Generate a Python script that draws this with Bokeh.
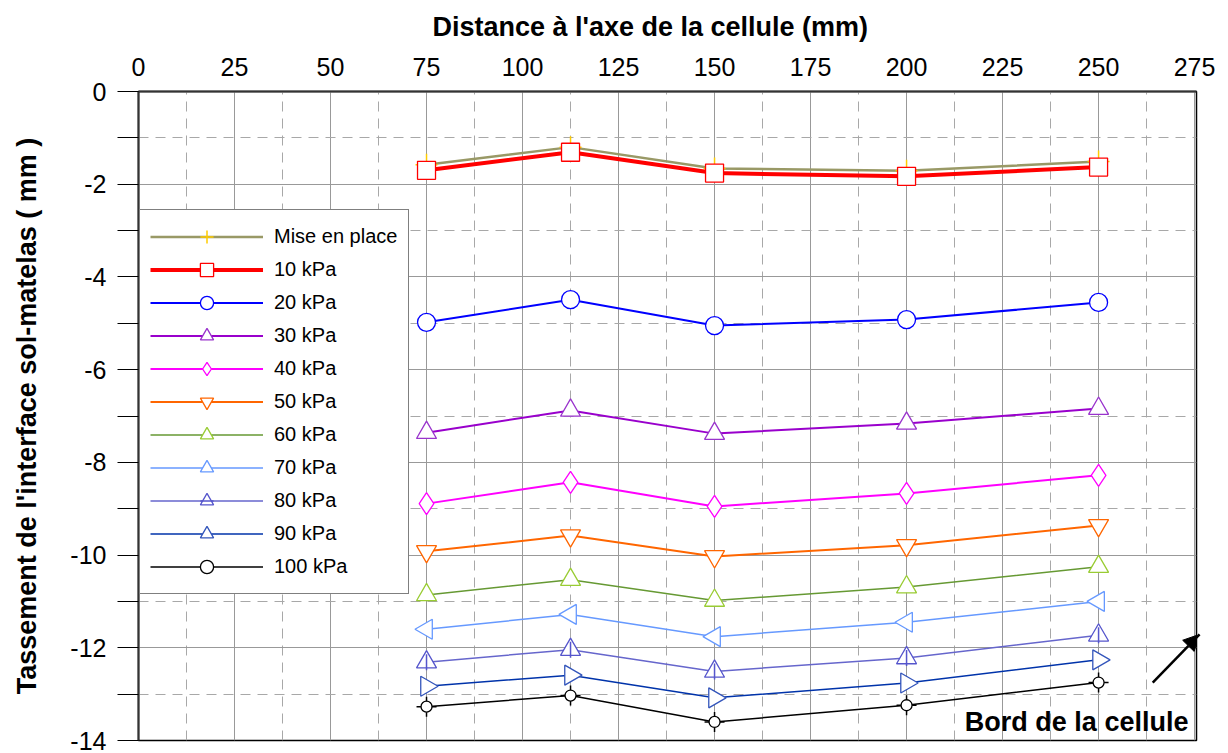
import math
from bokeh.plotting import figure
from bokeh.models import FixedTicker, Legend, LegendItem, Label, Arrow, NormalHead
from bokeh.embed import file_html
from bokeh.resources import INLINE

# ---------------- data ----------------
X_TICKS = [0, 25, 50, 75, 100, 125, 150, 175, 200, 225, 250, 275]
X_MINOR = [12.5, 37.5, 62.5, 87.5, 112.5, 137.5, 162.5, 187.5, 212.5, 237.5, 262.5]
Y_TICKS = [0, -2, -4, -6, -8, -10, -12, -14]
Y_MINOR = [-1, -3, -5, -7, -9, -11, -13]

distance = [75, 112.5, 150, 200, 250]
labels = ["Mise en place", "10 kPa", "20 kPa", "30 kPa", "40 kPa", "50 kPa",
          "60 kPa", "70 kPa", "80 kPa", "90 kPa", "100 kPa"]
mise_en_place = [-1.58, -1.20, -1.66, -1.71, -1.51]
kpa_10 = [-1.70, -1.31, -1.76, -1.83, -1.63]
kpa_20 = [-4.98, -4.49, -5.05, -4.92, -4.55]
kpa_30 = [-7.36, -6.88, -7.38, -7.16, -6.84]
kpa_40 = [-8.89, -8.43, -8.95, -8.67, -8.28]
kpa_50 = [-9.92, -9.58, -10.03, -9.79, -9.36]
kpa_60 = [-10.86, -10.53, -10.98, -10.69, -10.25]
kpa_70 = [-11.60, -11.28, -11.76, -11.45, -11.00]
kpa_80 = [-12.31, -12.04, -12.51, -12.22, -11.73]
kpa_90 = [-12.83, -12.59, -13.08, -12.76, -12.26]
kpa_100 = [-13.27, -13.03, -13.60, -13.24, -12.75]
series = [mise_en_place, kpa_10, kpa_20, kpa_30, kpa_40, kpa_50,
          kpa_60, kpa_70, kpa_80, kpa_90, kpa_100]

X_TITLE = "Distance à l'axe de la cellule (mm)"
Y_TITLE = "Tassement de l'interface sol-matelas ( mm )"
NOTE_TEXT = "Bord de la cellule"

# ---------------- styles ----------------
# (line colour, line width, [(marker, marker colour, size, angle, fill), ...])
styles = [
    ("#999966", 2.5, [("cross", "#FFCC00", 22, 0, None)]),
    ("#FF0000", 4.0, [("square", "#FF0000", 18, 0, "white")]),
    ("#0000FF", 2.0, [("circle", "#0000FF", 18, 0, "white")]),
    ("#9900CC", 2.0, [("triangle", "#9933CC", 20, 0, "white")]),
    ("#FF00FF", 2.0, [("diamond", "#FF00FF", 22, 0, "white")]),
    ("#FF6600", 2.0, [("inverted_triangle", "#FF6600", 20, 0, "white")]),
    ("#669933", 1.5, [("triangle", "#99CC33", 20, 0, "white")]),
    ("#6699FF", 1.5, [("triangle", "#6699FF", 20, math.pi / 2, "white")]),
    ("#6666CC", 1.5, [("triangle", "#5555CC", 20, 0, "white"),
                      ("dash", "#5555CC", 16, math.pi / 2, None)]),
    ("#0033AA", 1.5, [("triangle", "#3355BB", 20, -math.pi / 2, "white")]),
    ("#000000", 1.5, [("cross", "#000000", 20, 0, None),
                      ("circle", "#000000", 11, 0, "white")]),
]

FONT = "Liberation Sans"

p = figure(frame_width=1058, frame_height=649,
           x_range=(0, 275.5), y_range=(-14, 0),
           x_axis_location="above",
           min_border_left=138, min_border_top=91,
           min_border_right=32, min_border_bottom=13,
           output_backend="svg", toolbar_location=None)

p.background_fill_color = "white"
p.border_fill_color = "white"
p.outline_line_color = "black"
p.outline_line_width = 1.5

# title above the top axis (x-axis title)
p.title.text = X_TITLE
p.title.align = "left"
p.title.offset = 294
p.title.vertical_align = "top"
p.title.text_font = FONT
p.title.text_font_style = "bold"
p.title.text_font_size = "27px"
p.title.text_color = "black"
p.title.standoff = 22

# axes
xa = p.xaxis[0]
xa.ticker = FixedTicker(ticks=X_TICKS, minor_ticks=X_MINOR)
xa.major_label_text_font = FONT
xa.major_label_text_font_size = "25px"
xa.major_label_text_color = "black"
xa.major_label_standoff = 16
xa.major_tick_out = 0
xa.major_tick_in = 0
xa.minor_tick_out = 0
xa.minor_tick_in = 0
xa.axis_line_color = "#333333"
xa.axis_line_width = 2

ya = p.yaxis[0]
ya.ticker = FixedTicker(ticks=Y_TICKS, minor_ticks=Y_MINOR)
ya.major_label_overrides = {t: str(t) for t in Y_TICKS}
ya.axis_label = Y_TITLE
ya.axis_label_text_font = FONT
ya.axis_label_text_font_style = "bold"
ya.axis_label_text_font_size = "27px"
ya.axis_label_text_color = "black"
ya.axis_label_standoff = 25
ya.major_label_text_font = FONT
ya.major_label_text_font_size = "25px"
ya.major_label_text_color = "black"
ya.major_label_standoff = 11
ya.major_tick_out = 21
ya.major_tick_in = 0
ya.minor_tick_out = 21
ya.minor_tick_in = 0
ya.major_tick_line_color = "black"
ya.minor_tick_line_color = "black"
ya.axis_line_color = "#333333"
ya.axis_line_width = 2

# grids
for g in (p.xgrid[0], p.ygrid[0]):
    g.grid_line_color = "#999999"
    g.grid_line_width = 1
    g.minor_grid_line_color = "#A8A8A8"
    g.minor_grid_line_width = 1
    g.minor_grid_line_dash = "10 7"

# series
items = []
for lab, ys, (lc, lw, marks) in zip(labels, series, styles):
    rs = [p.line(distance, ys, line_color=lc, line_width=lw)]
    for (m, mc, ms, ang, fill) in marks:
        if fill is None:
            r = p.scatter(distance, ys, marker=m, size=ms, angle=ang,
                          line_color=mc, line_width=1.5)
        else:
            r = p.scatter(distance, ys, marker=m, size=ms, angle=ang,
                          line_color=mc, line_width=1.3, fill_color=fill)
        rs.append(r)
    items.append(LegendItem(label=lab, renderers=rs))

legend = Legend(items=items, location=(1, 146), margin=0, padding=10,
                glyph_width=113, glyph_height=33, spacing=0,
                label_standoff=11, label_width=124,
                label_text_font=FONT, label_text_font_size="20px",
                label_text_color="black", label_text_baseline="middle",
                border_line_color="black", border_line_width=1.5,
                background_fill_color="white", background_fill_alpha=1.0)
p.add_layout(legend, "center")

# annotation
p.add_layout(Label(x=273.4, y=-13.61, text=NOTE_TEXT, text_align="right",
                   text_baseline="middle", text_font=FONT,
                   text_font_style="bold", text_font_size="27px",
                   text_color="black"))
p.add_layout(Arrow(x_start=264.1, y_start=-12.75, x_end=276.3, y_end=-11.71,
                   line_color="black", line_width=2.5,
                   end=NormalHead(size=16, fill_color="black", line_color="black")))

open("out.html", "w").write(file_html(p, INLINE))
